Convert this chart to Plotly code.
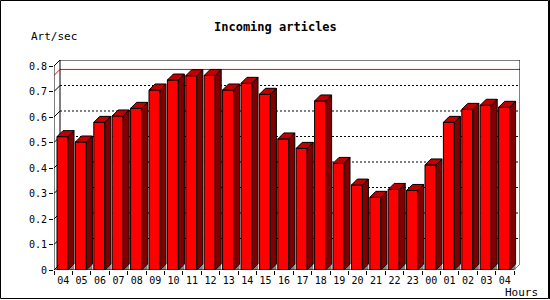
import plotly.graph_objects as go

# ---- data ----
hours = ["04", "05", "06", "07", "08", "09", "10", "11", "12", "13", "14", "15",
         "16", "17", "18", "19", "20", "21", "22", "23", "00", "01", "02", "03", "04"]
rate = [0.523, 0.502, 0.579, 0.604, 0.634, 0.706, 0.745, 0.762, 0.763, 0.706,
        0.732, 0.689, 0.514, 0.477, 0.663, 0.418, 0.333, 0.285, 0.316, 0.312,
        0.412, 0.579, 0.630, 0.646, 0.638]
y_ticks = [0, 0.1, 0.2, 0.3, 0.4, 0.5, 0.6, 0.7, 0.8]
y_tick_text = ["0", "0.1", "0.2", "0.3", "0.4", "0.5", "0.6", "0.7", "0.8"]

# ---- geometry (3D look) ----
PX_X = 18.4          # pixels per category
PX_Y = 255.0         # pixels per unit
dx = 6 / PX_X        # depth in x units
dy = 6 / PX_Y        # depth in y units
off = 3 / PX_X       # gap left of bar front
bw = 11 / PX_X       # bar front width
n = len(rate)
ymax = 0.8
FONT = "DejaVu Sans Mono"

fx, fy, sx, sy, tx, ty, gx, gy = [], [], [], [], [], [], [], []
for i, v in enumerate(rate):
    L = i - 0.5 + off
    R = L + bw
    fx += [L, R, R, L, L, None]; fy += [0, 0, v, v, 0, None]
    sx += [R, R + dx, R + dx, R, R, None]; sy += [0, dy, v + dy, v, 0, None]
    tx += [L, R, R + dx, L + dx, L, None]; ty += [v, v, v + dy, v + dy, v, None]
    gx += [R, R + dx, R + dx, R, None]; gy += [0, dy, 0, 0, None]

fig = go.Figure()
fig.add_trace(go.Scatter(x=gx, y=gy, fill="toself", fillcolor="#808080", mode="lines",
                         line=dict(width=0, color="#808080"), hoverinfo="skip"))
for xs, ys, col in [(fx, fy, "#ff0000"), (sx, sy, "#800000"), (tx, ty, "#c00000")]:
    fig.add_trace(go.Scatter(x=xs, y=ys, fill="toself", fillcolor=col, mode="lines",
                             line=dict(width=1, color="black"), hoverinfo="skip"))

shapes = []
x0, x1 = -0.5, n - 0.5
# dotted gridlines on back wall and left wall
for v in y_ticks[1:-1]:
    shapes.append(dict(type="line", x0=x0 + dx, x1=x1 + dx, y0=v + dy, y1=v + dy,
                       line=dict(color="black", width=1, dash="2px,2px"), layer="below"))
    shapes.append(dict(type="line", x0=x0, x1=x0 + dx, y0=v, y1=v + dy,
                       line=dict(color="black", width=1), layer="below"))
# max line
m = max(rate)
shapes.append(dict(type="path", path=f"M {x0},{m} L {x0+dx},{m+dy} L {x1+dx},{m+dy}",
                   line=dict(color="red", width=1), layer="below"))
# back wall box
shapes.append(dict(type="path",
                   path=f"M {x0+dx},{dy} L {x0+dx},{ymax+dy} L {x1+dx},{ymax+dy} L {x1+dx},{dy}",
                   line=dict(color="black", width=1), layer="below"))
shapes.append(dict(type="line", x0=x1, x1=x1 + dx, y0=0, y1=dy,
                   line=dict(color="#808080", width=1), layer="below"))
# front axes
shapes.append(dict(type="path",
                   path=f"M {x1},0 L {x0},0 L {x0},{ymax} L {x0+dx},{ymax+dy}",
                   line=dict(color="black", width=1)))
shapes.append(dict(type="line", x0=x0, x1=x0 + dx, y0=0, y1=dy,
                   line=dict(color="black", width=1)))
# outer frame
W, H, L_, T_ = 466.0, 210.0, 54.0, 60.0
def px2paper_x(p): return (p - L_) / W
def px2paper_y(p): return (T_ + H - p) / H
shapes.append(dict(type="rect", xref="paper", yref="paper",
                   x0=px2paper_x(0.5), x1=px2paper_x(548.5),
                   y0=px2paper_y(298.5), y1=px2paper_y(0.5),
                   line=dict(color="black", width=1)))
shapes.append(dict(type="line", xref="paper", yref="paper",
                   x0=px2paper_x(549.5), x1=px2paper_x(549.5),
                   y0=px2paper_y(299), y1=px2paper_y(0),
                   line=dict(color="black", width=1)))

fig.update_layout(
    width=550, height=300,
    margin=dict(l=54, r=30, t=60, b=30),
    plot_bgcolor="white", paper_bgcolor="white",
    showlegend=False,
    shapes=shapes,
    font=dict(family=FONT, size=11, color="black"),
    xaxis=dict(range=[x0, x1 + dx], tickvals=list(range(n)), ticktext=hours,
               ticks="", showgrid=False, zeroline=False, showline=False,
               tickfont=dict(family=FONT, size=10), ticklabelstandoff=3,
               minor=dict(tickmode="array", tickvals=[k - 0.5 for k in range(n + 1)],
                          ticks="outside", ticklen=4, tickcolor="black", showgrid=False),
               fixedrange=True),
    yaxis=dict(range=[0, ymax + dy], tickvals=y_ticks, ticktext=y_tick_text,
               ticks="outside", ticklen=4, tickcolor="black", showgrid=False,
               zeroline=False, showline=False, tickfont=dict(family=FONT, size=10),
               fixedrange=True),
    annotations=[
        dict(text="<b>Incoming articles</b>", xref="paper", yref="paper",
             x=px2paper_x(275), y=px2paper_y(27), xanchor="center", yanchor="middle",
             showarrow=False, font=dict(family=FONT, size=12)),
        dict(text="Art/sec", xref="paper", yref="paper",
             x=px2paper_x(29), y=px2paper_y(37), xanchor="left", yanchor="middle",
             showarrow=False, font=dict(family=FONT, size=11)),
        dict(text="Hours", xref="paper", yref="paper",
             x=px2paper_x(503), y=px2paper_y(292), xanchor="left", yanchor="middle",
             showarrow=False, font=dict(family=FONT, size=11)),
    ],
)

fig.write_html("out.html")
